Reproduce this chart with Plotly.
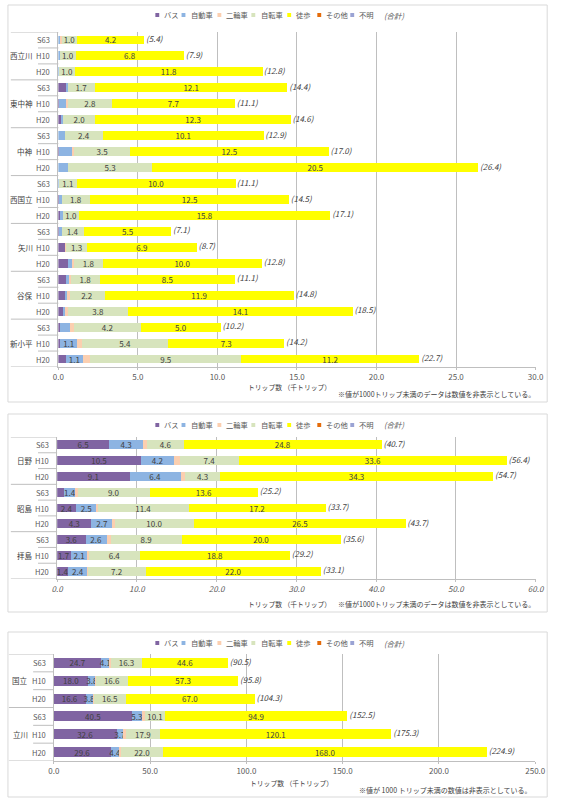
import plotly.graph_objects as go

W, H = 564, 801

SERIES = ["バス", "自動車", "二輪車", "自転車", "徒歩", "その他", "不明"]
COLORS = ["#8064a2", "#8db4e2", "#fbcfb0", "#d7e4bd", "#ffff00", "#e46c0a", "#9aa3d4"]
YEARS = ["S63", "H10", "H20"]

# ---- Panel 1 data (千トリップ) ----
p1_groups = ["西立川", "東中神", "中神", "西国立", "矢川", "谷保", "新小平"]
p1_bus = [0.0, 0.0, 0.0, 0.45, 0.05, 0.17, 0.0, 0.05, 0.0, 0.0, 0.05, 0.1, 0.05, 0.45, 0.6, 0.45, 0.5, 0.3, 0.1, 0.1, 0.45]
p1_car = [0.15, 0.1, 0.05, 0.15, 0.5, 0.15, 0.4, 0.8, 0.6, 0.05, 0.15, 0.2, 0.15, 0.0, 0.25, 0.3, 0.1, 0.2, 0.6, 1.1, 1.1]
p1_moto = [0.05, 0.0, 0.0, 0.0, 0.05, 0.0, 0.0, 0.15, 0.0, 0.0, 0.0, 0.0, 0.0, 0.05, 0.15, 0.05, 0.1, 0.1, 0.3, 0.3, 0.45]
p1_bike = [1.0, 1.0, 1.0, 1.7, 2.8, 2.0, 2.4, 3.5, 5.3, 1.1, 1.8, 1.0, 1.4, 1.3, 1.8, 1.8, 2.2, 3.8, 4.2, 5.4, 9.5]
p1_walk = [4.2, 6.8, 11.8, 12.1, 7.7, 12.3, 10.1, 12.5, 20.5, 10.0, 12.5, 15.8, 5.5, 6.9, 10.0, 8.5, 11.9, 14.1, 5.0, 7.3, 11.2]
p1_other = [0.0] * 21
p1_unknown = [0.0] * 21
p1_total = [5.4, 7.9, 12.8, 14.4, 11.1, 14.6, 12.9, 17.0, 26.4, 11.1, 14.5, 17.1, 7.1, 8.7, 12.8, 11.1, 14.8, 18.5, 10.2, 14.2, 22.7]

# ---- Panel 2 data ----
p2_groups = ["日野", "昭島", "拝島"]
p2_bus = [6.5, 10.5, 9.1, 0.9, 2.4, 4.3, 3.6, 1.7, 1.4]
p2_car = [4.3, 4.2, 6.4, 1.4, 2.5, 2.7, 2.6, 2.1, 2.4]
p2_moto = [0.5, 0.7, 0.6, 0.3, 0.2, 0.2, 0.5, 0.2, 0.1]
p2_bike = [4.6, 7.4, 4.3, 9.0, 11.4, 10.0, 8.9, 6.4, 7.2]
p2_walk = [24.8, 33.6, 34.3, 13.6, 17.2, 26.5, 20.0, 18.8, 22.0]
p2_other = [0.0] * 9
p2_unknown = [0.0] * 9
p2_total = [40.7, 56.4, 54.7, 25.2, 33.7, 43.7, 35.6, 29.2, 33.1]

# ---- Panel 3 data ----
p3_groups = ["国立", "立川"]
p3_bus = [24.7, 18.0, 16.6, 40.5, 32.6, 29.6]
p3_car = [4.1, 3.8, 3.8, 5.3, 3.7, 4.4]
p3_moto = [0.8, 0.1, 0.4, 1.7, 1.0, 0.9]
p3_bike = [16.3, 16.6, 16.5, 10.1, 17.9, 22.0]
p3_walk = [44.6, 57.3, 67.0, 94.9, 120.1, 168.0]
p3_other = [0.0] * 6
p3_unknown = [0.0] * 6
p3_total = [90.5, 95.8, 104.3, 152.5, 175.3, 224.9]

NOTE_A = "※値が1000トリップ未満のデータは数値を非表示としている。"
NOTE_B = "※値が 1000 トリップ未満の数値は非表示としている。"
XTITLE = "トリップ数 （千トリップ）"

panels = [
    dict(groups=p1_groups, series=[p1_bus, p1_car, p1_moto, p1_bike, p1_walk, p1_other, p1_unknown],
         total=p1_total, xmax=30, dtick=5, xdom=(54, 546), ydom=(32, 367), legend_y=15,
         title=(292, 387), note=(548, 394, NOTE_A), box=(5, 402), grp_r=30, yr_r=47,
         inner_x0=33, outer_x0=5, italic=False),
    dict(groups=p2_groups, series=[p2_bus, p2_car, p2_moto, p2_bike, p2_walk, p2_other, p2_unknown],
         total=p2_total, xmax=60, dtick=10, xdom=(52.7, 546), ydom=(437, 579), legend_y=425,
         title=(292, 604), note=(548, 604, NOTE_A), box=(414, 612), grp_r=30, yr_r=46,
         inner_x0=33, outer_x0=5, italic=True),
    dict(groups=p3_groups, series=[p3_bus, p3_car, p3_moto, p3_bike, p3_walk, p3_other, p3_unknown],
         total=p3_total, xmax=250, dtick=50, xdom=(49.3, 545.7), ydom=(654, 761), legend_y=643,
         title=(294, 783), note=(543, 790, NOTE_B), box=(632, 797), grp_r=25, yr_r=43,
         inner_x0=28, outer_x0=3, italic=False),
]

LEG_POS = [(156, 161), (183, 189), (220, 225), (255, 261), (292, 297), (323, 328), (357, 362)]
LEG_TOTAL_X = 388

FONT = "Noto Sans CJK JP"
TXT = "#404040"
LBL = "#595959"
GRID = "#bfbfbf"


def px(x):
    return x / W


def py(y):
    return 1 - y / H


fig = go.Figure()
layout = dict(width=W, height=H, margin=dict(l=0, r=0, t=0, b=0), barmode="stack",
              paper_bgcolor="white", plot_bgcolor="white",
              font=dict(family=FONT, size=8, color=LBL),
              uniformtext=dict(minsize=8, mode="show"))
shapes = []
annotations = []

for k, p in enumerate(panels):
    sfx = "" if k == 0 else str(k + 1)
    xa, ya = "x" + sfx, "y" + sfx
    n = len(p["groups"]) * 3
    rows = list(range(n))
    for s, (name, color) in enumerate(zip(SERIES, COLORS)):
        vals = p["series"][s]
        labels = [f"{v:.1f}" if (v >= 1.0 and s in (0, 1, 3, 4)) else "" for v in vals]
        fig.add_trace(go.Bar(
            x=vals, y=rows, orientation="h", name=name,
            marker=dict(color=color, line=dict(width=0)), width=0.56,
            text=labels, textposition="inside", insidetextanchor="middle", textangle=0,
            textfont=dict(size=8, color=TXT, family=FONT),
            xaxis=xa, yaxis=ya, showlegend=False))
    fig.add_trace(go.Scatter(
        x=p["total"], y=rows, mode="text", name="合計",
        text=[f"<i> ({t:.1f})</i>" for t in p["total"]],
        textposition="middle right", textfont=dict(size=8, color=TXT, family=FONT),
        xaxis=xa, yaxis=ya, showlegend=False, cliponaxis=False))

    x0, x1 = p["xdom"]
    yt, yb = p["ydom"]
    tickfont = dict(size=8, color=LBL, family=FONT)
    if p["italic"]:
        tickfont["style"] = "italic"
    layout["xaxis" + sfx] = dict(
        domain=[px(x0), px(x1)], anchor=ya, range=[0, p["xmax"]], dtick=p["dtick"], tick0=0,
        tickformat=".1f", showgrid=True, gridcolor=GRID, gridwidth=1, zeroline=False,
        showline=True, linecolor=GRID, ticks="outside", ticklen=2, tickcolor=GRID,
        tickfont=tickfont, fixedrange=True)
    layout["yaxis" + sfx] = dict(
        domain=[py(yb), py(yt)], anchor=xa, range=[n - 0.5, -0.5], showticklabels=False,
        showgrid=False, zeroline=False, showline=True, linecolor=GRID, ticks="", fixedrange=True)

    # panel border
    bt, bb = p["box"]
    shapes.append(dict(type="rect", xref="paper", yref="paper", x0=px(2), x1=px(558),
                       y0=py(bb), y1=py(bt), line=dict(color="#d9d9d9", width=1)))
    # category separators
    for b in range(n + 1):
        yv = b - 0.5
        xs = p["outer_x0"] if b % 3 == 0 else p["inner_x0"]
        shapes.append(dict(type="line", xref="paper", yref=ya, x0=px(xs), x1=px(x0),
                           y0=yv, y1=yv, line=dict(color=GRID, width=1)))
    # year + group labels
    for g, gname in enumerate(p["groups"]):
        annotations.append(dict(x=px(p["grp_r"]), y=g * 3 + 1, xref="paper", yref=ya, text=gname,
                                showarrow=False, xanchor="right", yanchor="middle",
                                font=dict(size=7.5, color=TXT)))
        for j, yr in enumerate(YEARS):
            annotations.append(dict(x=px(p["yr_r"]), y=g * 3 + j, xref="paper", yref=ya, text=yr,
                                    showarrow=False, xanchor="right", yanchor="middle",
                                    font=dict(size=7.5, color=LBL)))
    # legend
    ly = p["legend_y"]
    for (sx, tx), name, color in zip(LEG_POS, SERIES, COLORS):
        shapes.append(dict(type="rect", xref="paper", yref="paper", x0=px(sx - 2), x1=px(sx + 2),
                           y0=py(ly + 2), y1=py(ly - 2), fillcolor=color, line=dict(width=0)))
        annotations.append(dict(x=px(tx), y=py(ly), xref="paper", yref="paper", text=name,
                                showarrow=False, xanchor="left", yanchor="middle",
                                font=dict(size=7.3, color=LBL)))
    annotations.append(dict(x=px(LEG_TOTAL_X), y=py(ly), xref="paper", yref="paper",
                            text="<i>(合計)</i>", showarrow=False, xanchor="left", yanchor="middle",
                            font=dict(size=7.5, color=LBL)))
    # axis title and note
    tx_, ty_ = p["title"]
    annotations.append(dict(x=px(tx_), y=py(ty_), xref="paper", yref="paper", text=XTITLE,
                            showarrow=False, xanchor="center", yanchor="middle",
                            font=dict(size=6.8, color=TXT)))
    nx, ny, ntext = p["note"]
    annotations.append(dict(x=px(nx), y=py(ny), xref="paper", yref="paper", text=ntext,
                            showarrow=False, xanchor="right", yanchor="middle",
                            font=dict(size=7, color=TXT)))

layout["shapes"] = shapes
layout["annotations"] = annotations
fig.update_layout(**layout)
fig.write_html("out.html")
